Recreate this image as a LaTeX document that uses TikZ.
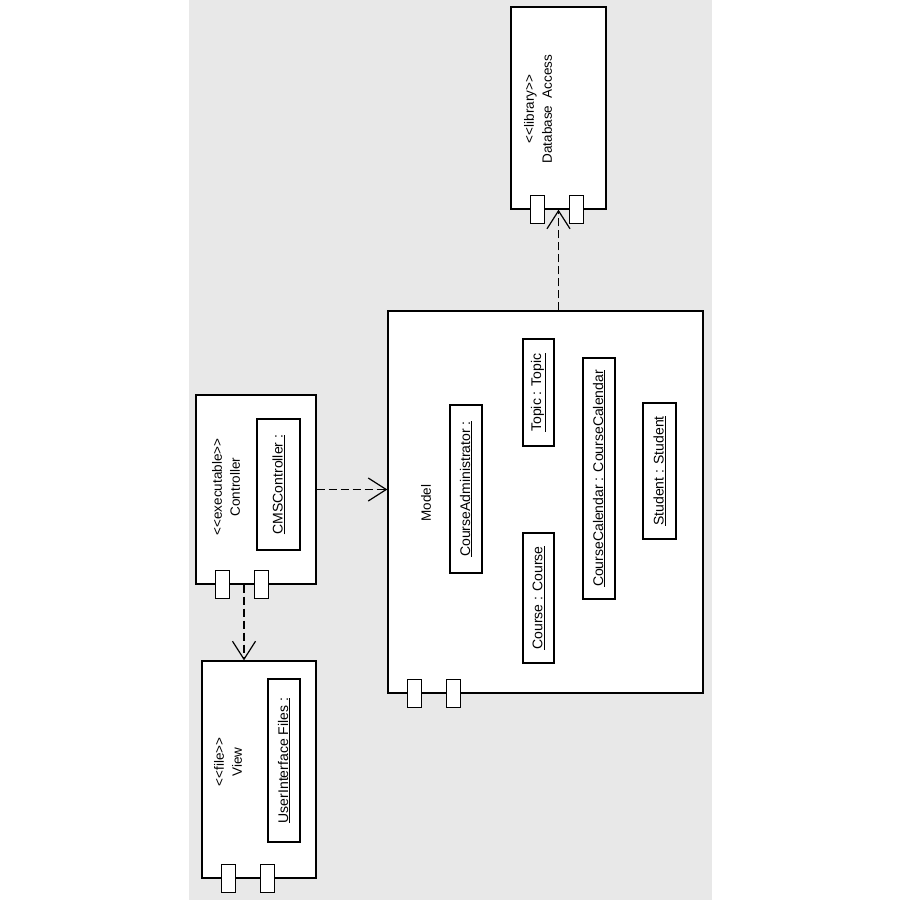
\documentclass[tikz,border=0pt]{standalone}
\usepackage{fontspec}
\setmainfont{Liberation Sans}
\usetikzlibrary{arrows.meta,positioning}
\pgfkeys{/pixel/.code=\tikzset{x={(1pt,0pt)},y={(0pt,-1pt)}}}
\definecolor{canvasgrey}{RGB}{232,232,232}
\newcommand{\stereo}[1]{<{}<#1>{}>}
\tikzset{
  comp/.style={draw,fill=white,line width=1.3pt,inner sep=0pt},
  portbox/.style={draw,fill=white,line width=1.2pt,inner sep=0pt,minimum width=14pt,minimum height=28pt},
  inst/.style={draw,line width=1.2pt,inner sep=0pt,rotate=90,font=\fontsize{14}{16}\selectfont},
  label/.style={rotate=90,align=center,font=\fontsize{13.5}{18}\selectfont},
  depends/.style={line width=1.2pt,dash pattern=on 8pt off 4pt,-{Straight Barb[length=18pt,width=23pt]}}
}
\begin{document}
\begin{tikzpicture}[/pixel]
\def\compports#1{\foreach \dx in {27,66} \node[portbox] at ([xshift=\dx pt]#1.south west) {};}
\useasboundingbox (0,0) rectangle (900,900);
\fill[white] (0,0) rectangle (900,900);
\fill[canvasgrey] (189,0) rectangle (712,900);
% components
\node[comp,minimum width=95pt,minimum height=202pt] (db) at (558.5,108) {};
\node[comp,minimum width=315pt,minimum height=382pt] (model) at (545.5,502) {};
\node[comp,minimum width=120pt,minimum height=189pt] (ctrl) at (256,489.5) {};
\node[comp,minimum width=114pt,minimum height=217pt] (view) at (259,769.5) {};
\compports{db} \compports{model} \compports{ctrl} \compports{view}
\node[label] (dblabel) at (538,109) {\stereo{library}\\Database\ \ Access};
\node[label] (ctrllabel) at (226,487) {\stereo{executable}\\Controller};
\node[label] (viewlabel) at (228,762) {\stereo{file}\\View};
\node[label] (modellabel) at (426,503) {Model};
% instances
\node[inst,minimum width=131pt,minimum height=43pt] (cms) at (278.5,484.5) {\underline{CMSController :}};
\node[inst,minimum width=163pt,minimum height=32pt] (uif) at (284,760.5) {\underline{UserInterface Files :}};
\node[inst,minimum width=168pt,minimum height=32pt] (admin) at (466,489) {\underline{CourseAdministrator :}};
\node[inst,minimum width=107pt,minimum height=31pt] (topic) at (538.5,392.5) {\underline{Topic : Topic}};
\node[inst,minimum width=130pt,minimum height=31pt] (course) at (538.5,598) {\underline{Course : Course}};
\node[inst,minimum width=241pt,minimum height=32pt] (calendar) at (599,478.5) {\underline{CourseCalendar : CourseCalendar}};
\node[inst,minimum width=136pt,minimum height=33pt] (student) at (659.5,471) {\underline{Student : Student}};
% dependencies
\draw[depends] (ctrl.east) -- (ctrl.east -| model.west);
\draw[depends] ([xshift=-12pt]ctrl.south) -- ([xshift=-12pt]ctrl.south |- view.north);
\draw[depends] (model.north -| db.south) -- (db.south);
\end{tikzpicture}
\end{document}
